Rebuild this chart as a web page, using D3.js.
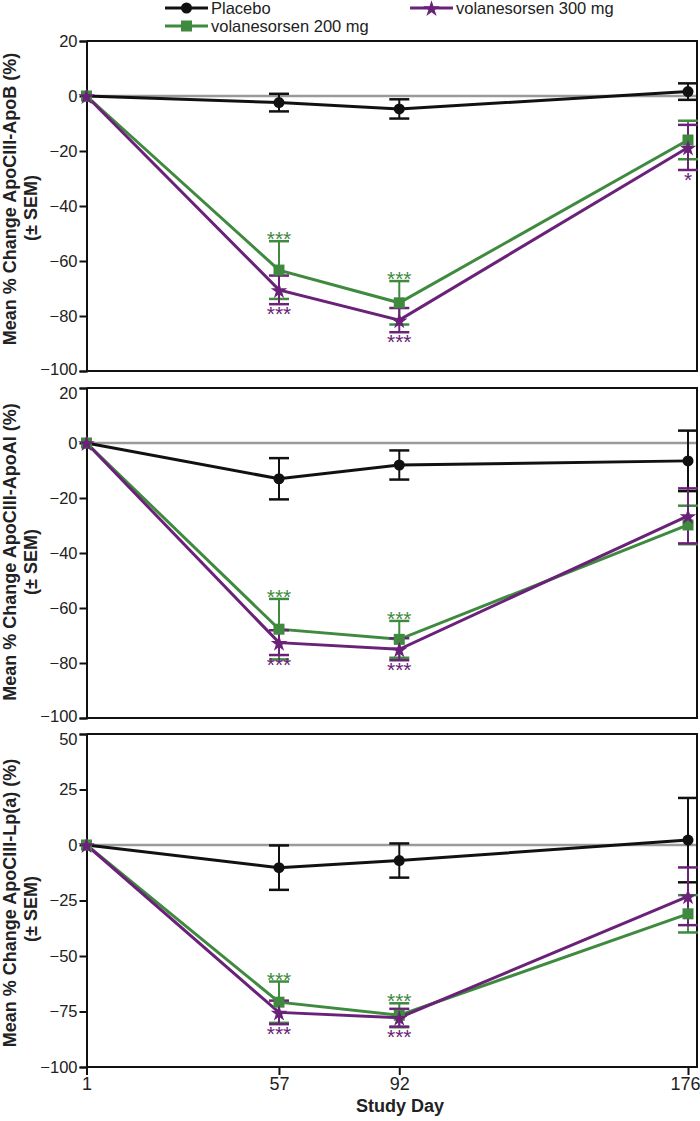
<!DOCTYPE html>
<html><head><meta charset="utf-8">
<script src="https://cdn.jsdelivr.net/npm/d3@7"></script>
<style>body{margin:0;background:#fff}svg{display:block;font-family:"Liberation Sans",Arial,sans-serif}</style>
</head><body><svg id="c" width="700" height="1121"></svg>
<script>
const days = [1, 57, 92, 176];
const seriesNames = ["Placebo", "volanesorsen 200 mg", "volanesorsen 300 mg"];

const apoBPlacebo = [0, -2.4, -4.7, 1.6];
const apoBPlaceboSem = [0, 3.2, 3.5, 3.0];
const apoB200 = [0, -63.3, -75.2, -16];
const apoB200Sem = [0, 10.5, 7.9, 7];
const apoB300 = [0, -70.5, -81.5, -18.7];
const apoB300Sem = [0, 5.2, 4.4, 8.2];
const apoB200Sig = ["", "***", "***", ""];
const apoB300Sig = ["", "***", "***", "*"];

const apoAIPlacebo = [0, -13, -8, -6.5];
const apoAIPlaceboSem = [0, 7.5, 5.3, 11];
const apoAI200 = [0, -67.7, -71.4, -29.8];
const apoAI200Sem = [0, 11, 6.7, 7];
const apoAI300 = [0, -72.6, -75, -26.5];
const apoAI300Sem = [0, 4.5, 4, 10];
const apoAI200Sig = ["", "***", "***", ""];
const apoAI300Sig = ["", "***", "***", ""];

const lpaPlacebo = [0, -10.2, -7, 2.2];
const lpaPlaceboSem = [0, 10, 7.7, 19];
const lpa200 = [0, -70.8, -76.7, -31];
const lpa200Sem = [0, 9.3, 5.4, 8.4];
const lpa300 = [0, -75.4, -77.8, -23.1];
const lpa300Sem = [0, 5.3, 4, 13];
const lpa200Sig = ["", "***", "***", ""];
const lpa300Sig = ["", "***", "***", ""];

const ticksApoB = [20, 0, -20, -40, -60, -80, -100];
const ticksApoAI = [20, 0, -20, -40, -60, -80, -100];
const ticksLpa = [50, 25, 0, -25, -50, -75, -100];

const colors = ["#111111", "#3f8a3f", "#6a2278"];
const FONT = "Liberation Sans, Arial, sans-serif";

const panels = [
  {title: "Mean % Change ApoCIII-ApoB (%)", domain: [20, -100], range: [41, 371], ticks: ticksApoB,
   series: [[apoBPlacebo, apoBPlaceboSem, null], [apoB200, apoB200Sem, apoB200Sig], [apoB300, apoB300Sem, apoB300Sig]],
   t1: 199, t2: 208},
  {title: "Mean % Change ApoCIII-ApoAI (%)", domain: [20, -100], range: [388, 718], ticks: ticksApoAI,
   series: [[apoAIPlacebo, apoAIPlaceboSem, null], [apoAI200, apoAI200Sem, apoAI200Sig], [apoAI300, apoAI300Sem, apoAI300Sig]],
   t1: 552, t2: 562},
  {title: "Mean % Change ApoCIII-Lp(a) (%)", domain: [50, -100], range: [734, 1067], ticks: ticksLpa,
   series: [[lpaPlacebo, lpaPlaceboSem, null], [lpa200, lpa200Sem, lpa200Sig], [lpa300, lpa300Sem, lpa300Sig]],
   t1: 903, t2: 909, last: true}
];

const svg = d3.select("#c");
const x = d3.scaleLinear().domain([1, 176]).range([86.5, 688]);
const xRight = 697;

const starPath = d3.symbol(d3.symbolStar, 85)();
function marker(g, i, cx, cy) {
  if (i === 0) g.append("circle").attr("cx", cx).attr("cy", cy).attr("r", 5.5).attr("fill", colors[0]);
  else if (i === 1) g.append("rect").attr("x", cx - 5.5).attr("y", cy - 5.5).attr("width", 11).attr("height", 11).attr("fill", colors[1]);
  else g.append("path").attr("d", starPath).attr("transform", `translate(${cx},${cy + 1})`).attr("fill", colors[2]);
}

panels.forEach((p, pi) => {
  const y = d3.scaleLinear().domain(p.domain).range(p.range);
  const g = svg.append("g");
  g.append("line").attr("x1", x(1)).attr("x2", xRight).attr("y1", y(0)).attr("y2", y(0))
    .attr("stroke", "#9a9a9a").attr("stroke-width", 2.5);
  g.append("path").attr("d", `M${x(1)},${y(p.domain[0])}H${xRight}V${y(p.domain[1])}H${x(1)}`)
    .attr("fill", "none").attr("stroke", "#111").attr("stroke-width", 2);
  const ya = g.append("g").attr("transform", `translate(${x(1)},0)`)
    .call(d3.axisLeft(y).tickValues(p.ticks).tickSize(7).tickPadding(2).tickFormat(d3.format("d")));
  ya.select(".domain").attr("stroke", "#111").attr("stroke-width", 2);
  ya.selectAll(".tick line").attr("stroke", "#111").attr("stroke-width", 2);
  ya.selectAll(".tick text").attr("font-size", 16.5).attr("fill", "#222").attr("font-family", FONT)
    .attr("dy", d => {
      if (d === p.domain[0] && pi > 0) return "0.62em";
      if (d === p.domain[1] && !p.last) return "0.2em";
      return "0.32em";
    });
  if (p.last) {
    const xa = g.append("g").attr("transform", `translate(0,${p.range[1]})`)
      .call(d3.axisBottom(x).tickValues(days).tickSize(8).tickPadding(2).tickFormat(d3.format("d")));
    xa.select(".domain").remove();
    xa.selectAll(".tick line").attr("stroke", "#111").attr("stroke-width", 2);
    xa.selectAll(".tick text").attr("font-size", 18).attr("fill", "#222").attr("font-family", FONT)
      .attr("dx", d => d === 176 ? -3 : 0);
  }
  g.append("text").attr("transform", `translate(16,${p.t1}) rotate(-90)`).attr("text-anchor", "middle")
    .attr("font-size", 18).attr("font-weight", "bold").attr("fill", "#222").text(p.title);
  g.append("text").attr("transform", `translate(37,${p.t2}) rotate(-90)`).attr("text-anchor", "middle")
    .attr("font-size", 18).attr("font-weight", "bold").attr("fill", "#222").text("(± SEM)");

  const line = d3.line().x((d, k) => x(days[k])).y(d => y(d));
  p.series.forEach((s, i) => {
    const [vals, sem, sig] = s;
    const sg = g.append("g");
    sg.append("path").attr("d", line(vals)).attr("fill", "none").attr("stroke", colors[i]).attr("stroke-width", 3);
    vals.forEach((v, k) => {
      if (sem[k] > 0) {
        const cx = x(days[k]);
        const yt = y(v + sem[k]), yb = y(v - sem[k]);
        sg.append("line").attr("x1", cx).attr("x2", cx).attr("y1", yt).attr("y2", yb).attr("stroke", colors[i]).attr("stroke-width", 2);
        [yt, yb].forEach(yy => sg.append("line").attr("x1", cx - 10).attr("x2", cx + 10).attr("y1", yy).attr("y2", yy)
          .attr("stroke", colors[i]).attr("stroke-width", 2.5));
        if (sig && sig[k]) {
          const ty = i === 1 ? yt + 5 : yb + 17;
          sg.append("text").attr("x", cx).attr("y", ty).attr("text-anchor", "middle").attr("font-size", 21)
            .attr("fill", colors[i]).text(sig[k]);
        }
      }
    });
  });
  p.series.forEach((s, i) => {
    s[0].forEach((v, k) => marker(g, i, x(days[k]), y(v)));
  });
});

svg.append("text").attr("x", 400).attr("y", 1112).attr("text-anchor", "middle").attr("font-size", 18)
  .attr("font-weight", "bold").attr("fill", "#222").text("Study Day");

const legend = [
  {i: 0, x: 165, y: 8},
  {i: 1, x: 165, y: 26},
  {i: 2, x: 410, y: 8}
];
legend.forEach(l => {
  const lg = svg.append("g");
  lg.append("line").attr("x1", l.x).attr("x2", l.x + 43).attr("y1", l.y).attr("y2", l.y).attr("stroke", colors[l.i]).attr("stroke-width", 3);
  marker(lg, l.i, l.x + 21.5, l.y);
  lg.append("text").attr("x", l.x + 46).attr("y", l.y + 6).attr("font-size", 16.5).attr("fill", "#222").text(seriesNames[l.i]);
});
</script></body></html>
